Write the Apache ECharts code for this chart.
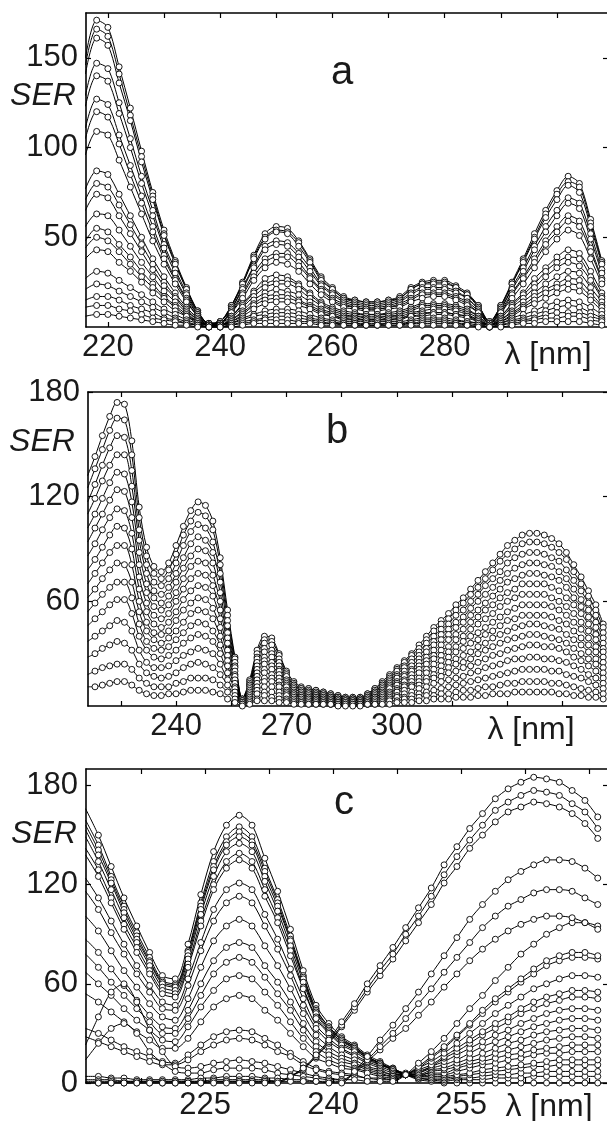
<!DOCTYPE html>
<html><head><meta charset="utf-8">
<script src="https://cdn.jsdelivr.net/npm/echarts@6/dist/echarts.min.js"></script>
<style>html,body{margin:0;padding:0;background:#fff}#chart{width:607px;height:1121px}</style>
</head><body><div id="chart"></div>
<script>
// ---------- Panel a ----------
const waveA = [216,218,220,222,224,226,228,230,232,234,236,238,240,242,244,246,248,250,252,254,256,258,260,262,264,266,268,270,272,274,276,278,280,282,284,286,288,290,292,294,296,298,300,302,304,306,308];
const a01 = [150,171,167,145,122,98,75,54,37,22,9,2,3,12,25,40,52,56,55,48,38,28,22,17,15,14,14,15,17,22,25,26,26,23,19,12,3,12,25,38,52,65,76,84,80,60,37];
const a02 = [146,166,162,141,118,95,73,52,36,21,9,2,3,12,24,39,50,54,53,47,37,27,21,16,15,14,14,15,16,21,24,25,25,22,18,12,3,12,24,37,50,63,74,81,78,58,36];
const a03 = [141,161,157,136,115,92,71,51,35,21,8,2,3,11,24,38,49,53,52,45,36,26,21,16,14,13,13,14,16,21,24,24,24,22,18,11,3,11,24,36,49,61,71,79,75,56,35];
const a04 = [129,147,144,125,105,84,65,46,32,19,8,2,3,10,22,34,45,48,47,41,33,24,19,15,13,12,12,13,15,19,22,22,22,20,16,10,3,10,22,33,45,56,65,72,69,52,32];
const a05 = [123,140,137,119,100,80,62,44,30,18,7,2,2,10,21,33,43,46,45,39,31,23,18,14,12,11,11,12,14,18,21,21,21,19,16,10,2,10,21,31,43,53,62,69,66,49,30];
const a06 = [111,127,124,107,90,73,56,40,27,16,7,1,2,9,19,30,38,41,41,36,28,21,16,13,11,10,10,11,13,16,19,19,19,17,14,9,2,9,19,28,38,48,56,62,59,44,27];
const a07 = [105,120,117,102,85,69,53,38,26,15,6,1,2,8,18,28,36,39,39,34,27,20,15,12,11,10,10,11,12,15,18,18,18,16,13,8,2,8,18,27,36,46,53,59,56,42,26];
const a08 = [96,109,107,93,78,63,48,35,24,14,6,1,2,8,16,26,33,36,35,31,24,18,14,11,10,9,9,10,11,14,16,17,17,15,12,8,2,8,16,24,33,42,49,54,51,38,24];
const a09 = [77,87,85,74,62,50,38,28,19,11,5,1,2,6,13,20,27,29,28,24,19,14,11,9,8,7,7,8,9,11,13,13,13,12,10,6,2,6,13,19,27,33,39,43,41,31,19];
const a10 = [71,80,78,68,57,46,35,25,17,10,4,1,1,6,12,19,24,26,26,23,18,13,10,8,7,7,7,7,8,10,12,12,12,11,9,6,1,6,12,18,24,31,36,39,38,28,17];
const a11 = [65,74,72,62,52,42,32,23,16,9,4,1,1,5,11,17,22,24,24,21,16,12,9,7,6,6,6,6,7,9,11,11,11,10,8,5,1,5,11,16,22,28,33,36,34,26,16];
const a12 = [56,63,62,54,45,36,28,20,14,8,3,1,1,4,9,15,19,21,20,18,14,10,8,6,6,5,5,6,6,8,9,10,10,9,7,4,1,4,9,14,19,24,28,31,30,22,14];
const a13 = [48,55,53,46,39,31,24,17,12,7,3,1,1,4,8,13,17,18,18,15,12,9,7,5,5,4,4,5,5,7,8,8,8,7,6,4,1,4,8,12,17,21,24,27,26,19,12];
const a14 = [44,50,48,42,35,28,22,16,11,6,3,1,1,3,7,12,15,16,16,14,11,8,6,5,4,4,4,4,5,6,7,8,8,7,6,3,1,3,7,11,15,19,22,24,23,17,11];
const a15 = [38,43,42,36,31,25,19,14,9,6,2,1,1,3,6,10,13,14,14,12,10,7,6,4,4,4,4,4,4,6,6,7,7,6,5,3,1,3,6,10,13,16,19,21,20,15,9];
const a16 = [27,31,30,26,22,18,14,10,7,4,2,0,1,2,5,7,9,10,10,9,7,5,4,3,3,3,3,3,3,4,5,5,5,4,3,2,1,2,5,7,9,12,14,15,14,11,7];
const a17 = [21,24,23,20,17,14,11,8,5,3,1,0,0,2,4,6,7,8,8,7,5,4,3,2,2,2,2,2,2,3,4,4,4,3,3,2,0,2,4,5,7,9,11,12,11,8,5];
const a18 = [15,17,17,15,12,10,8,5,4,2,1,0,0,1,3,4,5,6,6,5,4,3,2,2,2,1,1,2,2,2,3,3,3,2,2,1,0,1,3,4,5,7,8,8,8,6,4];
const a19 = [11,12,12,10,9,7,5,4,3,2,1,0,0,1,2,3,4,4,4,3,3,2,2,1,1,1,1,1,1,2,2,2,2,2,1,1,0,1,2,3,4,5,5,6,6,4,3];
const a20 = [6,7,7,6,5,4,3,2,1,1,0,0,0,0,1,2,2,2,2,2,2,1,1,1,1,1,1,1,1,1,1,1,1,1,1,0,0,0,1,2,2,3,3,3,3,2,1];
const xTicksA = [220,230,240,250,260,270,280,290,300];
const xLabelsA = [220,240,260,280];
const yTicksA = [50,100,150];

// ---------- Panel b ----------
const waveB = [216,218,220,222,224,226,228,230,232,234,236,238,240,242,244,246,248,250,252,254,256,258,260,262,264,266,268,270,272,274,276,278,280,282,284,286,288,290,292,294,296,298,300,302,304,306,308,310,312,314,316,318,320,322,324,326,328,330,332,334,336,338,340,342,344,346,348,350,352,354,356];
const b01 = [132,143,155,166,174,173,152,114,91,80,77,82,92,103,112,117,115,106,85,55,28,4,15,32,40,39,30,20,14,11,10,9,8,7,6,5,5,5,7,10,14,18,22,26,30,35,40,45,49,53,58,62,67,72,77,82,87,92,95,98,99,99,98,96,93,88,81,74,66,58,47];
const b02 = [125,136,147,158,165,164,144,108,86,76,73,78,87,98,106,111,109,101,81,52,27,4,14,30,38,37,29,19,13,10,10,9,8,7,6,5,5,5,7,10,13,17,21,25,29,33,38,43,47,50,55,59,64,68,73,78,83,87,90,93,94,94,93,91,88,84,77,70,63,55,45];
const b03 = [117,127,138,148,155,154,135,101,81,71,69,73,82,92,100,104,102,94,76,49,25,4,13,28,36,35,27,18,12,10,9,8,7,6,5,4,4,4,6,9,12,16,20,23,27,31,36,40,44,47,52,55,60,64,69,73,77,82,85,87,88,88,87,85,83,78,72,66,59,52,42];
const b04 = [110,119,129,138,144,144,126,95,76,66,64,68,76,85,93,97,95,88,71,46,23,3,12,27,33,32,25,17,12,9,8,7,7,6,5,4,4,4,6,8,12,15,18,22,25,29,33,37,41,44,48,51,56,60,64,68,72,76,79,81,82,82,81,80,77,73,67,61,55,48,39];
const b05 = [102,110,119,128,134,133,117,88,70,62,59,63,71,79,86,90,89,82,65,42,22,3,12,25,31,30,23,15,11,8,8,7,6,5,5,4,4,4,5,8,11,14,17,20,23,27,31,35,38,41,45,48,52,55,59,63,67,71,73,75,76,76,75,74,72,68,62,57,51,45,36];
const b06 = [94,102,110,118,124,123,108,81,65,57,55,58,65,73,80,83,82,75,60,39,20,3,11,23,28,28,21,14,10,8,7,6,6,5,4,4,4,4,5,7,10,13,16,18,21,25,28,32,35,38,41,44,48,51,55,58,62,65,67,70,70,70,70,68,66,62,58,53,47,41,33];
const b07 = [86,93,101,108,113,112,99,74,59,52,50,53,60,67,73,76,75,69,55,36,18,3,10,21,26,25,20,13,9,7,7,6,5,5,4,3,3,3,5,7,9,12,14,17,20,23,26,29,32,34,38,40,44,47,50,53,57,60,62,64,64,64,64,62,60,57,53,48,43,38,31];
const b08 = [78,84,91,98,103,102,90,67,54,47,45,48,54,61,66,69,68,63,50,32,17,2,9,19,24,23,18,12,8,6,6,5,5,4,4,3,3,3,4,6,8,11,13,15,18,21,24,27,29,31,34,37,40,42,45,48,51,54,56,58,58,58,58,57,55,52,48,44,39,34,28];
const b09 = [70,76,82,88,92,92,81,60,48,42,41,43,49,55,59,62,61,56,45,29,15,2,8,17,21,21,16,11,7,6,5,5,4,4,3,3,3,3,4,5,7,10,12,14,16,19,21,24,26,28,31,33,36,38,41,43,46,49,50,52,52,52,52,51,49,47,43,39,35,31,25];
const b10 = [62,67,73,78,82,81,71,54,43,38,36,39,43,48,53,55,54,50,40,26,13,2,7,15,19,18,14,9,7,5,5,4,4,3,3,2,2,2,3,5,7,8,10,12,14,16,19,21,23,25,27,29,31,34,36,39,41,43,45,46,47,47,46,45,44,41,38,35,31,27,22];
const b11 = [54,59,64,68,71,71,62,47,37,33,32,34,38,42,46,48,47,43,35,23,11,2,6,13,16,16,12,8,6,5,4,4,3,3,2,2,2,2,3,4,6,7,9,11,12,14,16,18,20,22,24,25,27,30,32,34,36,38,39,40,41,41,40,39,38,36,33,30,27,24,19];
const b12 = [46,50,54,58,61,61,53,40,32,28,27,29,32,36,39,41,40,37,30,19,10,1,5,11,14,14,11,7,5,4,4,3,3,2,2,2,2,2,2,4,5,6,8,9,11,12,14,16,17,19,20,22,23,25,27,29,30,32,33,34,35,35,34,34,33,31,28,26,23,20,16];
const b13 = [37,40,43,46,49,48,43,32,25,22,22,23,26,29,31,33,32,30,24,15,8,1,4,9,11,11,8,6,4,3,3,3,2,2,2,1,1,1,2,3,4,5,6,7,8,10,11,13,14,15,16,17,19,20,22,23,24,26,27,27,28,28,27,27,26,25,23,21,18,16,13];
const b14 = [28,30,33,35,37,36,32,24,19,17,16,17,19,22,24,25,24,22,18,12,6,1,3,7,8,8,6,4,3,2,2,2,2,1,1,1,1,1,1,2,3,4,5,5,6,7,8,9,10,11,12,13,14,15,16,17,18,19,20,21,21,21,21,20,20,18,17,16,14,12,10];
const b15 = [18,20,22,23,24,24,21,16,13,11,11,11,13,14,16,16,16,15,12,8,4,1,2,4,6,5,4,3,2,2,1,1,1,1,1,1,1,1,1,1,2,3,3,4,4,5,6,6,7,7,8,9,9,10,11,11,12,13,13,14,14,14,14,13,13,12,11,10,9,8,7];
const b16 = [11,11,12,13,14,14,12,9,7,6,6,7,7,8,9,9,9,8,7,4,2,0,1,3,3,3,2,2,1,1,1,1,1,1,0,0,0,0,1,1,1,1,2,2,2,3,3,4,4,4,5,5,5,6,6,7,7,7,8,8,8,8,8,8,7,7,6,6,5,5,4];
const xTicksB = [225,240,255,270,285,300,315,330,345];
const xLabelsB = [240,270,300];
const yTicksB = [60,120,180];

// ---------- Panel c ----------
const waveC = [211,212.5,214,215.5,217,218.5,220,221.5,223,224.5,226,227.5,229,230.5,232,233.5,235,236.5,238,239.5,241,242.5,244,245.5,247,248.5,250,251.5,253,254.5,256,257.5,259,260.5,262,263.5,265,266.5,268,269.5,271];
const c01 = [166,150,131,112,95,79,65,63,84,114,140,156,162,156,136,116,93,68,47,36,28,23,17,13,9,5,2,1,0,0,0,0,0,0,0,0,0,0,0,0,0];
const c02 = [159,144,125,107,91,76,62,60,80,109,134,149,155,149,130,111,89,65,45,34,27,22,16,12,9,5,3,2,1,2,2,2,3,3,3,4,4,4,4,4,4];
const c03 = [156,141,123,105,89,74,61,59,79,107,131,146,152,146,128,109,87,64,44,34,26,22,16,12,8,5,3,2,2,3,3,4,5,5,6,6,7,7,7,7,7];
const c04 = [153,138,121,103,87,73,60,58,77,105,129,144,149,144,125,107,86,63,43,33,26,21,16,12,8,6,3,3,3,4,5,6,7,8,9,10,10,11,11,11,11];
const c05 = [149,134,117,100,85,71,58,56,75,102,125,140,145,140,122,104,83,61,42,32,25,21,15,12,8,5,4,4,4,5,6,8,9,10,11,12,13,14,14,14,14];
const c06 = [142,129,112,96,82,68,56,54,72,98,120,134,139,134,117,100,80,58,40,31,24,20,15,11,8,5,4,5,5,7,9,11,12,14,15,17,18,18,19,19,19];
const c07 = [138,125,109,93,79,66,54,52,70,95,117,130,135,130,113,97,77,57,39,30,23,19,14,11,8,5,5,6,6,9,11,13,15,17,18,20,21,22,23,23,23];
const c08 = [124,112,98,84,71,59,49,47,63,85,105,117,121,117,102,87,69,51,35,27,21,17,13,10,7,5,4,7,8,10,13,15,18,20,22,24,26,27,28,28,27];
const c09 = [116,105,91,78,66,55,45,44,59,80,98,109,113,109,95,81,65,47,33,25,20,16,12,9,6,5,5,8,9,12,15,18,21,24,26,29,31,32,33,33,32];
const c10 = [101,92,80,68,58,48,40,38,51,70,86,95,99,95,83,71,57,42,29,22,17,14,10,8,5,5,6,9,11,14,18,22,25,28,31,34,36,38,39,39,38];
const c11 = [87,79,69,59,50,41,34,33,44,60,74,82,85,82,71,61,49,36,25,19,15,12,9,7,5,5,6,10,13,17,21,25,29,32,36,39,42,44,45,45,44];
const c12 = [78,70,61,53,45,37,30,30,39,53,66,73,76,73,64,54,44,32,22,17,13,11,8,6,4,5,7,10,15,19,24,29,33,37,42,45,48,50,52,52,51];
const c13 = [67,60,53,45,38,32,26,25,34,46,56,63,65,63,55,47,37,27,19,14,11,9,7,5,4,5,8,11,16,21,26,31,36,40,45,49,52,54,56,56,55];
const c14 = [54,49,43,37,31,26,21,21,27,37,46,51,53,51,44,38,30,22,15,12,9,8,6,4,3,5,9,13,18,24,30,36,42,47,52,57,60,63,65,65,64];
const c15 = [33,30,26,22,19,16,13,12,17,23,28,31,32,31,27,23,18,13,9,7,6,5,3,3,2,5,9,15,21,28,35,42,49,55,61,66,71,74,76,76,75];
const c16 = [28,25,22,19,16,13,11,11,14,19,23,26,27,26,23,19,16,11,8,6,5,4,3,2,2,5,10,16,22,29,36,44,51,57,63,69,74,77,79,79,77];
const c17 = [23,40,55,60,49,32,19,10,9,10,12,13,14,13,12,10,8,6,4,3,2,2,1,1,1,5,12,19,27,36,45,53,62,70,78,84,90,94,97,97,95];
const c18 = [14,24,33,36,30,19,12,7,6,6,8,9,9,9,8,6,5,4,3,2,2,6,13,20,27,33,41,49,58,66,74,81,87,92,96,99,101,101,100,97,93];
const c19 = [4,4,3,3,2,2,2,2,2,3,3,4,4,4,3,3,2,2,1,1,1,7,14,22,30,39,48,57,67,76,85,94,101,107,111,115,117,117,116,112,108];
const c20 = [2,2,2,1,1,1,1,1,1,1,2,2,2,2,2,1,1,1,1,0,0,7,16,26,35,45,55,66,77,88,99,108,116,123,128,132,135,135,134,130,124];
const c21 = [1,1,1,1,1,1,1,1,1,1,1,1,1,1,1,1,4,8,16,24,34,44,55,65,75,86,97,108,121,131,142,150,158,164,167,170,169,167,163,157,148];
const c22 = [0,0,0,0,0,0,0,0,0,0,1,1,1,1,1,1,4,9,16,25,35,46,57,68,78,90,101,113,126,137,147,156,165,170,174,177,176,174,169,164,154];
const c23 = [0,0,0,0,0,0,0,0,0,0,0,0,0,0,0,0,4,9,17,26,37,48,60,71,82,94,106,118,132,143,154,163,172,178,182,185,184,182,177,171,161];
const xTicksC = [217.5,225,232.5,240,247.5,255,262.5,270];
const xLabelsC = [225,240,255];
const yTicksC = [0,60,120,180];

// ---------- build ----------
const curvesA = [a01,a02,a03,a04,a05,a06,a07,a08,a09,a10,a11,a12,a13,a14,a15,a16,a17,a18,a19,a20];
const curvesB = [b01,b02,b03,b04,b05,b06,b07,b08,b09,b10,b11,b12,b13,b14,b15,b16];
const curvesC = [c01,c02,c03,c04,c05,c06,c07,c08,c09,c10,c11,c12,c13,c14,c15,c16,c17,c18,c19,c20,c21,c22,c23];

const FONT = '"Liberation Sans", Arial, Helvetica, sans-serif';
const BLACK = '#000';

function makeSeries(wave, curves, g, size) {
  return curves.map(ys => ({
    type: 'line', xAxisIndex: g * 2, yAxisIndex: g * 2,
    data: wave.map((x, i) => [x, ys[i]]),
    smooth: 0.3, symbol: 'circle', symbolSize: size, showSymbol: true, showAllSymbol: true,
    lineStyle: { color: BLACK, width: 1 },
    itemStyle: { color: '#fff', borderColor: BLACK, borderWidth: 0.9 },
    emphasis: { disabled: true }, silent: true, animation: false, clip: true
  }));
}
function xPair(g, min, max, ticks, labels, margin) {
  const base = {
    type: 'value', gridIndex: g, min, max,
    axisLine: { show: true, onZero: false, lineStyle: { color: BLACK, width: 1.6 } },
    axisTick: { show: true, inside: true, length: 5, customValues: ticks, lineStyle: { color: BLACK, width: 1.2 } },
    splitLine: { show: false }
  };
  return [
    Object.assign({}, base, { position: 'bottom',
      axisLabel: { show: true, customValues: labels, fontSize: 31, fontFamily: FONT, color: '#1a1a1a', margin } }),
    Object.assign({}, base, { position: 'top', axisLabel: { show: false } })
  ];
}
function yPair(g, min, max, ticks) {
  const base = {
    type: 'value', gridIndex: g, min, max,
    axisLine: { show: true, onZero: false, lineStyle: { color: BLACK, width: 1.6 } },
    axisTick: { show: true, inside: true, length: 5, customValues: ticks, lineStyle: { color: BLACK, width: 1.2 } },
    splitLine: { show: false }
  };
  return [
    Object.assign({}, base, { position: 'left',
      axisLabel: { show: true, customValues: ticks, fontSize: 31, fontFamily: FONT, color: '#1a1a1a', margin: 8 } }),
    Object.assign({}, base, { position: 'right', axisLabel: { show: false } })
  ];
}
function txt(text, x, y, size, italic) {
  return { type: 'text', x, y, z: 100, silent: true,
    style: { text, fontSize: size, fontFamily: FONT, fontStyle: italic ? 'italic' : 'normal',
      fill: '#1a1a1a', align: 'center', verticalAlign: 'middle' } };
}

const chart = echarts.init(document.getElementById('chart'), null, { renderer: 'canvas' });
chart.setOption({
  animation: false,
  backgroundColor: '#fff',
  grid: [
    { left: 86, right: -1, top: 13, height: 314, outerBoundsMode: 'none', containLabel: false },
    { left: 88, right: -1, top: 392, height: 314, outerBoundsMode: 'none', containLabel: false },
    { left: 86, right: -1, top: 769, height: 314, outerBoundsMode: 'none', containLabel: false }
  ],
  xAxis: [].concat(
    xPair(0, 216.1, 309.1, xTicksA, xLabelsA, 5),
    xPair(1, 216.1, 357.3, xTicksB, xLabelsB, 5),
    xPair(2, 211.05, 272.2, xTicksC, xLabelsC, 7)
  ),
  yAxis: [].concat(
    yPair(0, 0, 175, yTicksA),
    yPair(1, 0, 180, yTicksB),
    yPair(2, 0, 190, yTicksC)
  ),
  graphic: [
    txt('SER', 43, 96, 32, true),
    txt('SER', 42, 442, 32, true),
    txt('SER', 44, 834, 32, true),
    txt('a', 342, 73, 40),
    txt('b', 337, 432, 40),
    txt('c', 344, 803, 40),
    txt('λ [nm]', 548, 355, 32),
    txt('λ [nm]', 531, 730, 32),
    txt('λ [nm]', 549, 1107, 32)
  ],
  series: [].concat(
    makeSeries(waveA, curvesA, 0, 6),
    makeSeries(waveB, curvesB, 1, 6),
    makeSeries(waveC, curvesC, 2, 6)
  )
});
</script>
</body></html>
